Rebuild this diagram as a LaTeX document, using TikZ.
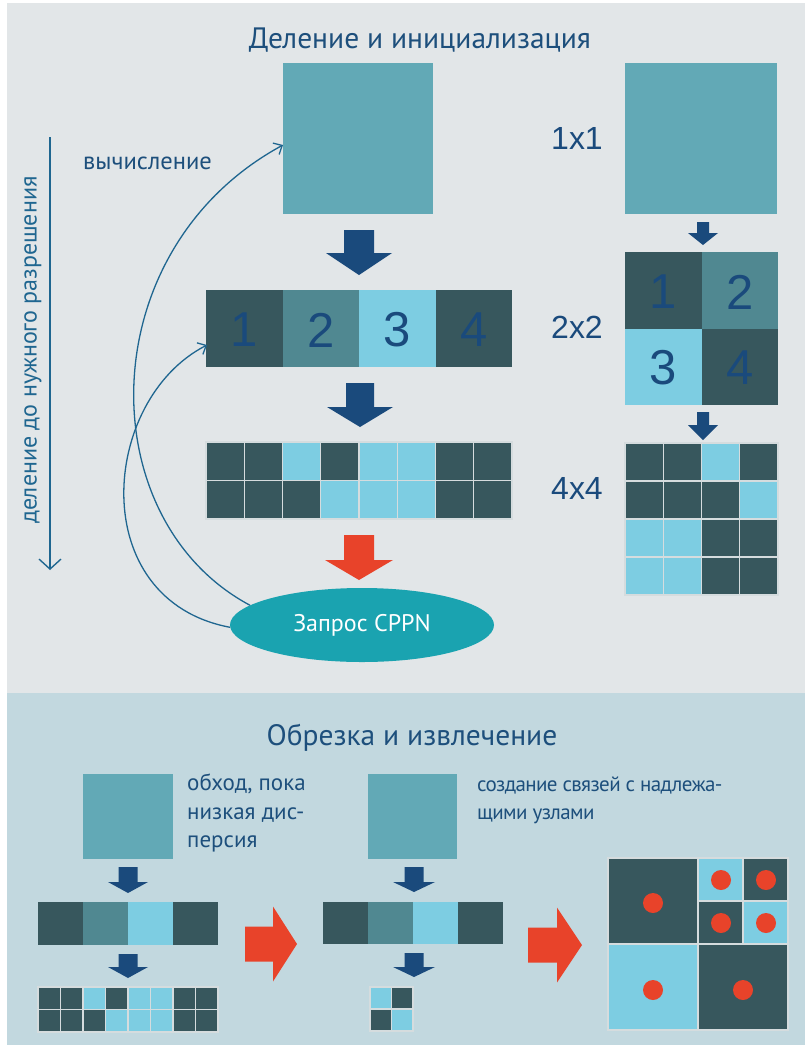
\documentclass[tikz,border=0pt]{standalone}
\usepackage{fontspec}
\setmainfont{PT Sans}
\newfontfamily\helv{Liberation Sans}
\newfontfamily\tightsans[LetterSpace=-3]{PT Sans}
\usetikzlibrary{arrows.meta,shapes.geometric}
\definecolor{bgtop}{HTML}{E2E6E8}
\definecolor{bgbot}{HTML}{C2D8DF}
\definecolor{cellD}{HTML}{37575D}
\definecolor{cellM}{HTML}{508891}
\definecolor{cellL}{HTML}{7DCDE2}
\definecolor{cellT}{HTML}{62A9B6}
\definecolor{navy}{HTML}{1A4A7C}
\definecolor{txtblue}{HTML}{1D4F7C}
\definecolor{lineblue}{HTML}{1F6690}
\definecolor{redarr}{HTML}{E8432A}
\definecolor{ellcol}{HTML}{1AA3B0}
\definecolor{gridline}{HTML}{D5DCDE}
\newcommand{\dnarrow}[7]{\fill[#7] (#1-#5,#2) -- (#1+#5,#2) -- (#1+#5,#3) -- (#1+#6,#3) -- (#1,#4) -- (#1-#6,#3) -- (#1-#5,#3) -- cycle;}
\newcommand{\rtarrow}[6]{\fill[redarr] (#1,#4-#5) -- (#2,#4-#5) -- (#2,#4-#6) -- (#3,#4) -- (#2,#4+#6) -- (#2,#4+#5) -- (#1,#4+#5) -- cycle;}
\tikzset{
  title/.style={text=txtblue,font=\fontsize{29.5}{34}\selectfont,inner sep=0pt},
  lbl/.style={text=txtblue,inner sep=0pt,align=left},
  dim/.style={text=navy,font=\helv\fontsize{32}{36}\selectfont,inner sep=0pt},
  num/.style={text=navy,font=\helv\fontsize{49}{52}\selectfont,inner sep=0pt},
  curv/.style={draw=lineblue,line width=1.3pt,-{Straight Barb[length=7pt,width=13pt,line width=1.3pt]}},
  grid/.style={draw=gridline,line width=1.2pt}
}
\begin{document}
\begin{tikzpicture}[x=1pt,y=-1pt]
\useasboundingbox (0,0) rectangle (805,1045);
% backgrounds
\fill[bgtop] (0,0) rectangle (805,693);
\fill[bgbot] (0,693) rectangle (805,1045);
\fill[white] (0,0) rectangle (7,1045);
\fill[white] (0,0) rectangle (805,3);

% ---------- top section ----------
\node[title] (t1) at (420,40) {Деление и инициализация};

% left column
\fill[cellT] (283,63) rectangle (433,214);
\coordinate (sqin) at (283,145);
\dnarrow{359}{230}{253}{275}{15}{33}{navy}
% row of 4
\foreach \c [count=\i from 0] in {D,M,L,D} {
  \fill[cell\c] (206+\i*76.5,290) rectangle ++(76.5,77);
}
\foreach \n [count=\i from 0] in {1,2,3,4} {
  \node[num] (r\n) at (244.25+\i*76.5,330) {\n};
}
\coordinate (rowin) at (207,345);
\dnarrow{360}{383}{407}{427}{14}{33}{navy}
% 2x8 grid
\foreach \c [count=\i from 0] in {D,D,L,D,L,L,D,D} {
  \filldraw[fill=cell\c,grid] (206+\i*38.25,442) rectangle ++(38.25,38.5);
}
\foreach \c [count=\i from 0] in {D,D,D,L,L,L,D,D} {
  \filldraw[fill=cell\c,grid] (206+\i*38.25,480.5) rectangle ++(38.25,38.5);
}
\dnarrow{359}{535}{560}{580}{15}{34}{redarr}
\node[ellipse,fill=ellcol,minimum width=264pt,minimum height=74pt,inner sep=0pt,
  text=white,font=\fontsize{24}{28}\selectfont] (cppn) at (362,625) {Запрос CPPN};

% curved connectors
\draw[curv] (cppn.170) .. controls (90,520) and (90,250) .. (sqin);
\draw[curv] (cppn.181) .. controls (85,600) and (100,400) .. (rowin);

% vertical arrow and text
\coordinate (vtop) at (50,137);
\coordinate (vbot) at (50,570);
\draw[draw=lineblue,line width=1.4pt,-{Straight Barb[length=10pt,width=22pt,line width=1.4pt]}] (vtop) -- (vbot);
\node[text=lineblue,font=\fontsize{24}{28}\selectfont,inner sep=0pt,rotate=90] (vt) at (33,350) {деление до нужного разрешения};
\node[text=txtblue,font=\fontsize{24.5}{28}\selectfont,inner sep=0pt,anchor=west] (calc) at (83,163) {вычисление};

% labels
\node[dim] (d1) at (577,138) {1x1};
\node[dim] (d2) at (577,327) {2x2};
\node[dim] (d4) at (577,488) {4x4};

% right column
\fill[cellT] (625,63) rectangle (777,214);
\dnarrow{703}{222}{233}{245}{6}{15}{navy}
\fill[cellD] (625,252) rectangle (701.5,328.5);
\fill[cellM] (701.5,252) rectangle (778,328.5);
\fill[cellL] (625,328.5) rectangle (701.5,405);
\fill[cellD] (701.5,328.5) rectangle (778,405);
\node[num] (q1) at (663.25,292) {1};
\node[num] (q2) at (739.75,292) {2};
\node[num] (q3) at (663.25,368) {3};
\node[num] (q4) at (739.75,368) {4};
\dnarrow{703}{412}{425}{440}{6}{15}{navy}
\foreach \row [count=\j from 0] in {{D,D,L,D},{D,D,D,L},{L,L,D,D},{L,L,D,D}} {
  \foreach \c [count=\i from 0] in \row {
    \filldraw[fill=cell\c,grid] (625+\i*38.25,443+\j*38) rectangle ++(38.25,38);
  }
}

% ---------- bottom section ----------
\node[title] (t2) at (412,738) {Обрезка и извлечение};

% left panel
\fill[cellT] (83,774) rectangle (173,859);
\node[lbl,font=\fontsize{23}{28.5}\selectfont,anchor=north west] (txt1) at (187,774) {обход, пока\\низкая дис-\\персия};
\dnarrow{128}{867}{882}{893}{9.5}{20}{navy}
\foreach \c [count=\i from 0] in {D,M,L,D} {
  \fill[cell\c] (38+\i*45,902) rectangle ++(45,43);
}
\dnarrow{128}{954}{967}{978}{9.5}{20}{navy}
\foreach \c [count=\i from 0] in {D,D,L,D,L,L,D,D} {
  \filldraw[fill=cell\c,grid] (38+\i*22.5,987) rectangle ++(22.5,22.5);
}
\foreach \c [count=\i from 0] in {D,D,D,L,L,L,D,D} {
  \filldraw[fill=cell\c,grid] (38+\i*22.5,1009.5) rectangle ++(22.5,22.5);
}
\rtarrow{245}{273}{297}{944}{17.5}{37.5}

% middle panel
\fill[cellT] (368,774) rectangle (457,859);
\node[lbl,font=\tightsans\fontsize{21}{28}\selectfont,anchor=north west] (txt2) at (477,777) {создание связей с надлежа-\\щими узлами};
\dnarrow{414}{867}{882}{892}{9.5}{21}{navy}
\foreach \c [count=\i from 0] in {D,M,L,D} {
  \fill[cell\c] (323+\i*45,902) rectangle ++(45,42);
}
\dnarrow{414}{953}{967}{977}{9.5}{21}{navy}
\filldraw[fill=cellL,grid] (370,987) rectangle ++(21.5,22);
\filldraw[fill=cellD,grid] (391.5,987) rectangle ++(21.5,22);
\filldraw[fill=cellD,grid] (370,1009) rectangle ++(21.5,22);
\filldraw[fill=cellL,grid] (391.5,1009) rectangle ++(21.5,22);
\rtarrow{528}{557}{582}{945}{17.5}{37.5}

% quadtree result
\filldraw[fill=cellD,grid] (608,858) rectangle (698,944);
\filldraw[fill=cellL,grid] (698,858) rectangle (743,901);
\filldraw[fill=cellD,grid] (743,858) rectangle (788,901);
\filldraw[fill=cellD,grid] (698,901) rectangle (743,944);
\filldraw[fill=cellL,grid] (743,901) rectangle (788,944);
\filldraw[fill=cellL,grid] (608,944) rectangle (698,1030);
\filldraw[fill=cellD,grid] (698,944) rectangle (788,1030);
\foreach \p in {(653,903),(721,880),(766,880),(721,923),(766,923),(653,990),(743,990)} {
  \fill[redarr] \p circle (10);
}
\end{tikzpicture}
\end{document}
